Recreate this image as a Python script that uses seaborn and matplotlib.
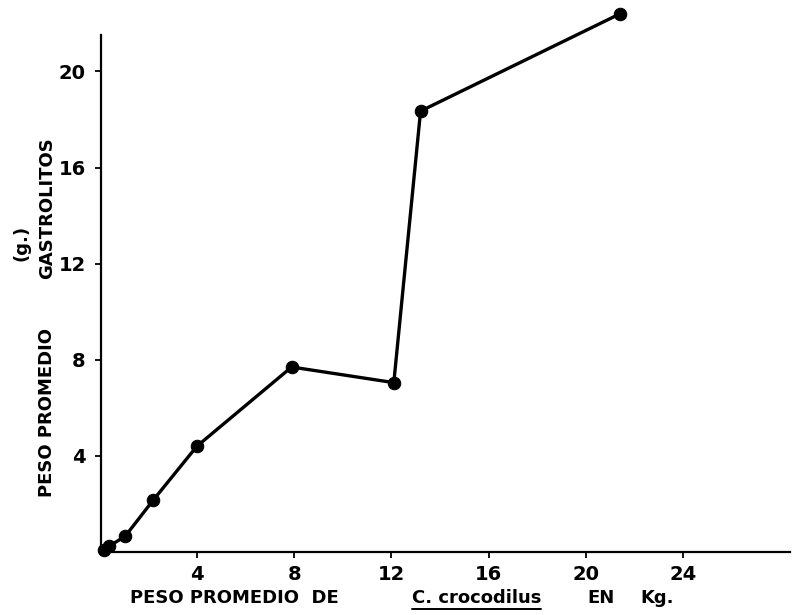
import matplotlib
matplotlib.use("Agg")
import matplotlib.pyplot as plt
import seaborn as sns
import pandas as pd
from matplotlib.lines import Line2D

# Data
peso_cocodrilo_kg = [0.2, 0.4, 1.05, 2.2, 4.0, 7.9, 12.1, 13.2, 21.4]
peso_gastrolitos_g = [0.1, 0.25, 0.65, 2.15, 4.4, 7.7, 7.05, 18.35, 22.4]
x_ticks = [4, 8, 12, 16, 20, 24]
y_ticks = [4, 8, 12, 16, 20]

df = pd.DataFrame({"x": peso_cocodrilo_kg, "y": peso_gastrolitos_g})

sns.set_style("ticks")
plt.rcParams["font.family"] = ["DejaVu Sans"]

fig = plt.figure(figsize=(8.08, 6.15), dpi=100)
ax = fig.add_axes([0.125, 0.1024, 0.853, 0.84])

sns.lineplot(data=df, x="x", y="y", ax=ax, color="black", linewidth=2.4,
             marker="o", markersize=9, markeredgecolor="black",
             markerfacecolor="black", sort=False, clip_on=False)
for l in ax.lines:
    l.set_clip_on(False)

ax.set_xlim(0.06, 28.4)
ax.set_ylim(0, 21.5)
ax.set_xticks(x_ticks)
ax.set_yticks(y_ticks)
ax.set_xticklabels([str(t) for t in x_ticks], fontsize=14, fontweight="bold")
ax.set_yticklabels([str(t) for t in y_ticks], fontsize=14, fontweight="bold")
ax.tick_params(axis="x", length=4, width=1.3, direction="out", pad=5, colors="black")
ax.tick_params(axis="y", length=4, width=1.3, direction="out", pad=7, colors="black")
ax.set_xlabel("")
ax.set_ylabel("")
sns.despine(ax=ax)
for s in ["left", "bottom"]:
    ax.spines[s].set_linewidth(1.6)
    ax.spines[s].set_color("black")

# Axis titles
fkw = dict(fontsize=13, fontweight="bold", color="black")
fig.text(0.058, 0.662, "GASTROLITOS", rotation=90, ha="center", va="center", **fkw)
fig.text(0.058, 0.33, "PESO PROMEDIO", rotation=90, ha="center", va="center", **fkw)
fig.text(0.026, 0.605, "(g.)", rotation=90, ha="center", va="center", **fkw)

y_t = 0.019
fig.text(0.161, y_t, "PESO PROMEDIO  DE", ha="left", va="baseline", **fkw)
t = fig.text(0.51, y_t, "C. crocodilus", ha="left", va="baseline", **fkw)
fig.text(0.727, y_t, "EN", ha="left", va="baseline", **fkw)
fig.text(0.792, y_t, "Kg.", ha="left", va="baseline", **fkw)
fig.canvas.draw()
bb = t.get_window_extent().transformed(fig.transFigure.inverted())
fig.add_artist(Line2D([bb.x0, bb.x1], [y_t - 0.010, y_t - 0.010],
                      transform=fig.transFigure, color="black", linewidth=1.4))

fig.savefig("out.png", dpi=100)
